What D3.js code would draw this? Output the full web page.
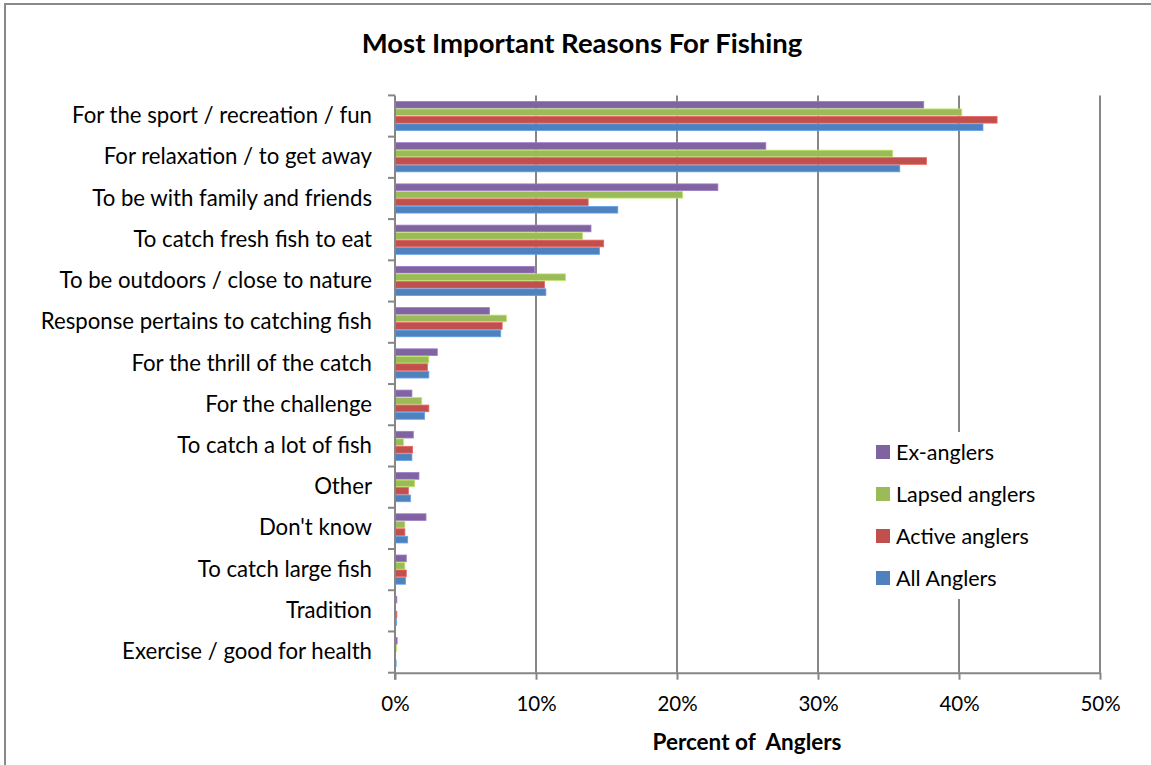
<!DOCTYPE html>
<html lang="en">
<head>
<meta charset="utf-8">
<title>Most Important Reasons For Fishing</title>
<script src="https://cdn.jsdelivr.net/npm/d3@7"></script>
<style>
body { margin: 0; background: #fff; }
svg { display: block; font-family: Lato, "Open Sans", sans-serif; }
</style>
</head>
<body>
<script>
// categories, top to bottom
var reasons = [
  "For the sport / recreation / fun",
  "For relaxation / to get away",
  "To be with family and friends",
  "To catch fresh fish to eat",
  "To be outdoors / close to nature",
  "Response pertains to catching fish",
  "For the thrill of the catch",
  "For the challenge",
  "To catch a lot of fish",
  "Other",
  "Don't know",
  "To catch large fish",
  "Tradition",
  "Exercise / good for health"
];

var seriesNames = ["Ex-anglers", "Lapsed anglers", "Active anglers", "All Anglers"];
var seriesColors = ["#8064A2", "#9BBB59", "#C0504D", "#4F81BD"];

// percent of anglers, one array per series (same order as reasons)
var exAnglers     = [37.5, 26.3, 22.9, 13.9, 9.9, 6.7, 3.0, 1.2, 1.3, 1.7, 2.2, 0.8, 0.13, 0.15];
var lapsedAnglers = [40.2, 35.3, 20.4, 13.3, 12.1, 7.9, 2.4, 1.9, 0.6, 1.4, 0.7, 0.7, 0.03, 0.1];
var activeAnglers = [42.7, 37.7, 13.7, 14.8, 10.6, 7.6, 2.3, 2.4, 1.25, 0.95, 0.7, 0.8, 0.13, 0.02];
var allAnglers    = [41.7, 35.8, 15.8, 14.5, 10.7, 7.5, 2.4, 2.1, 1.2, 1.1, 0.9, 0.75, 0.1, 0.08];

var xTicks = [0, 10, 20, 30, 40, 50];

var seriesValues = [exAnglers, lapsedAnglers, activeAnglers, allAnglers];

var width = 1151, height = 765;
var plot = { left: 395, right: 1100, top: 95.4, bottom: 672.7 };

var svg = d3.select("body").append("svg")
    .attr("width", width)
    .attr("height", height);

// chart border (clipped at right and bottom like the original)
svg.append("rect")
    .attr("x", 5).attr("y", 4)
    .attr("width", 1160).attr("height", 780)
    .attr("fill", "#fff")
    .attr("stroke", "#898989")
    .attr("stroke-width", 2);

var x = d3.scaleLinear().domain([0, 50]).range([plot.left, plot.right]);
// gap width 150% -> inner padding 1.5/5.5, half of that on the outside
var y = d3.scaleBand().domain(reasons).range([plot.top, plot.bottom])
    .paddingInner(1.5 / 5.5).paddingOuter(0.75 / 5.5);
var ySeries = d3.scaleBand().domain(seriesNames).range([0, y.bandwidth()]);

// gridlines
svg.append("g").selectAll("line")
    .data(xTicks.filter(function(d) { return d > 0; }))
    .enter().append("line")
    .attr("x1", function(d) { return x(d); })
    .attr("x2", function(d) { return x(d); })
    .attr("y1", plot.top)
    .attr("y2", plot.bottom)
    .attr("stroke", "#868686")
    .attr("stroke-width", 2);

// bars
var groups = svg.append("g").selectAll("g")
    .data(reasons)
    .enter().append("g")
    .attr("transform", function(d) { return "translate(0," + y(d) + ")"; });

groups.selectAll("rect")
    .data(function(d, i) {
        return seriesNames.map(function(s, j) {
            return { series: s, value: seriesValues[j][i], color: seriesColors[j] };
        });
    })
    .enter().append("rect")
    .attr("x", x(0))
    .attr("y", function(d) { return ySeries(d.series) + 0.4; })
    .attr("width", function(d) { return x(d.value) - x(0); })
    .attr("height", ySeries.bandwidth() - 0.8)
    .attr("fill", function(d) { return d.color; })
    .attr("stroke", function(d) { return d3.color(d.color).brighter(0.6); })
    .attr("stroke-width", 0.8);

// x axis
var xAxis = svg.append("g")
    .attr("transform", "translate(0," + plot.bottom + ")")
    .call(d3.axisBottom(x).tickValues(xTicks)
        .tickFormat(function(d) { return d + "%"; })
        .tickSize(7).tickSizeOuter(0).tickPadding(17));
xAxis.select(".domain").attr("stroke", "#868686").attr("stroke-width", 2);
xAxis.selectAll(".tick line").attr("stroke", "#868686").attr("stroke-width", 2);
xAxis.selectAll(".tick text")
    .attr("font-family", "Lato, sans-serif")
    .attr("font-size", 20.5)
    .attr("fill", "#000");

// y axis
var yAxis = svg.append("g")
    .attr("transform", "translate(" + plot.left + ",0)")
    .call(d3.axisLeft(y).tickSize(0).tickPadding(23));
yAxis.select(".domain").remove();
yAxis.selectAll(".tick text")
    .attr("font-family", "Lato, sans-serif")
    .attr("font-size", 22.2)
    .attr("fill", "#000");

svg.append("line")
    .attr("x1", plot.left).attr("x2", plot.left)
    .attr("y1", plot.top).attr("y2", plot.bottom + 7)
    .attr("stroke", "#868686").attr("stroke-width", 2);

// category boundary ticks
var step = y.step();
svg.append("g").selectAll("line")
    .data(d3.range(reasons.length + 1))
    .enter().append("line")
    .attr("x1", plot.left - 7).attr("x2", plot.left)
    .attr("y1", function(i) { return plot.top + i * step; })
    .attr("y2", function(i) { return plot.top + i * step; })
    .attr("stroke", "#868686").attr("stroke-width", 2);

// legend
var legend = svg.append("g");
legend.append("rect")
    .attr("x", 866).attr("y", 432)
    .attr("width", 180).attr("height", 167)
    .attr("fill", "#fff");

var item = legend.selectAll("g.item")
    .data(seriesNames)
    .enter().append("g")
    .attr("class", "item")
    .attr("transform", function(d, i) { return "translate(876," + (452 + i * 42) + ")"; });

item.append("rect")
    .attr("x", 0).attr("y", -7)
    .attr("width", 14).attr("height", 14)
    .attr("fill", function(d, i) { return seriesColors[i]; });

item.append("text")
    .attr("x", 20).attr("dy", "0.35em")
    .attr("font-size", 21.5)
    .text(function(d) { return d; });

// titles
svg.append("text")
    .attr("x", 582).attr("y", 53)
    .attr("text-anchor", "middle")
    .attr("font-weight", "bold")
    .attr("font-size", 27.5)
    .text("Most Important Reasons For Fishing");

svg.append("text")
    .attr("x", 747).attr("y", 750)
    .attr("text-anchor", "middle")
    .attr("font-weight", "bold")
    .attr("font-size", 22.5)
    .attr("xml:space", "preserve")
    .text("Percent of  Anglers");
</script>
</body>
</html>
